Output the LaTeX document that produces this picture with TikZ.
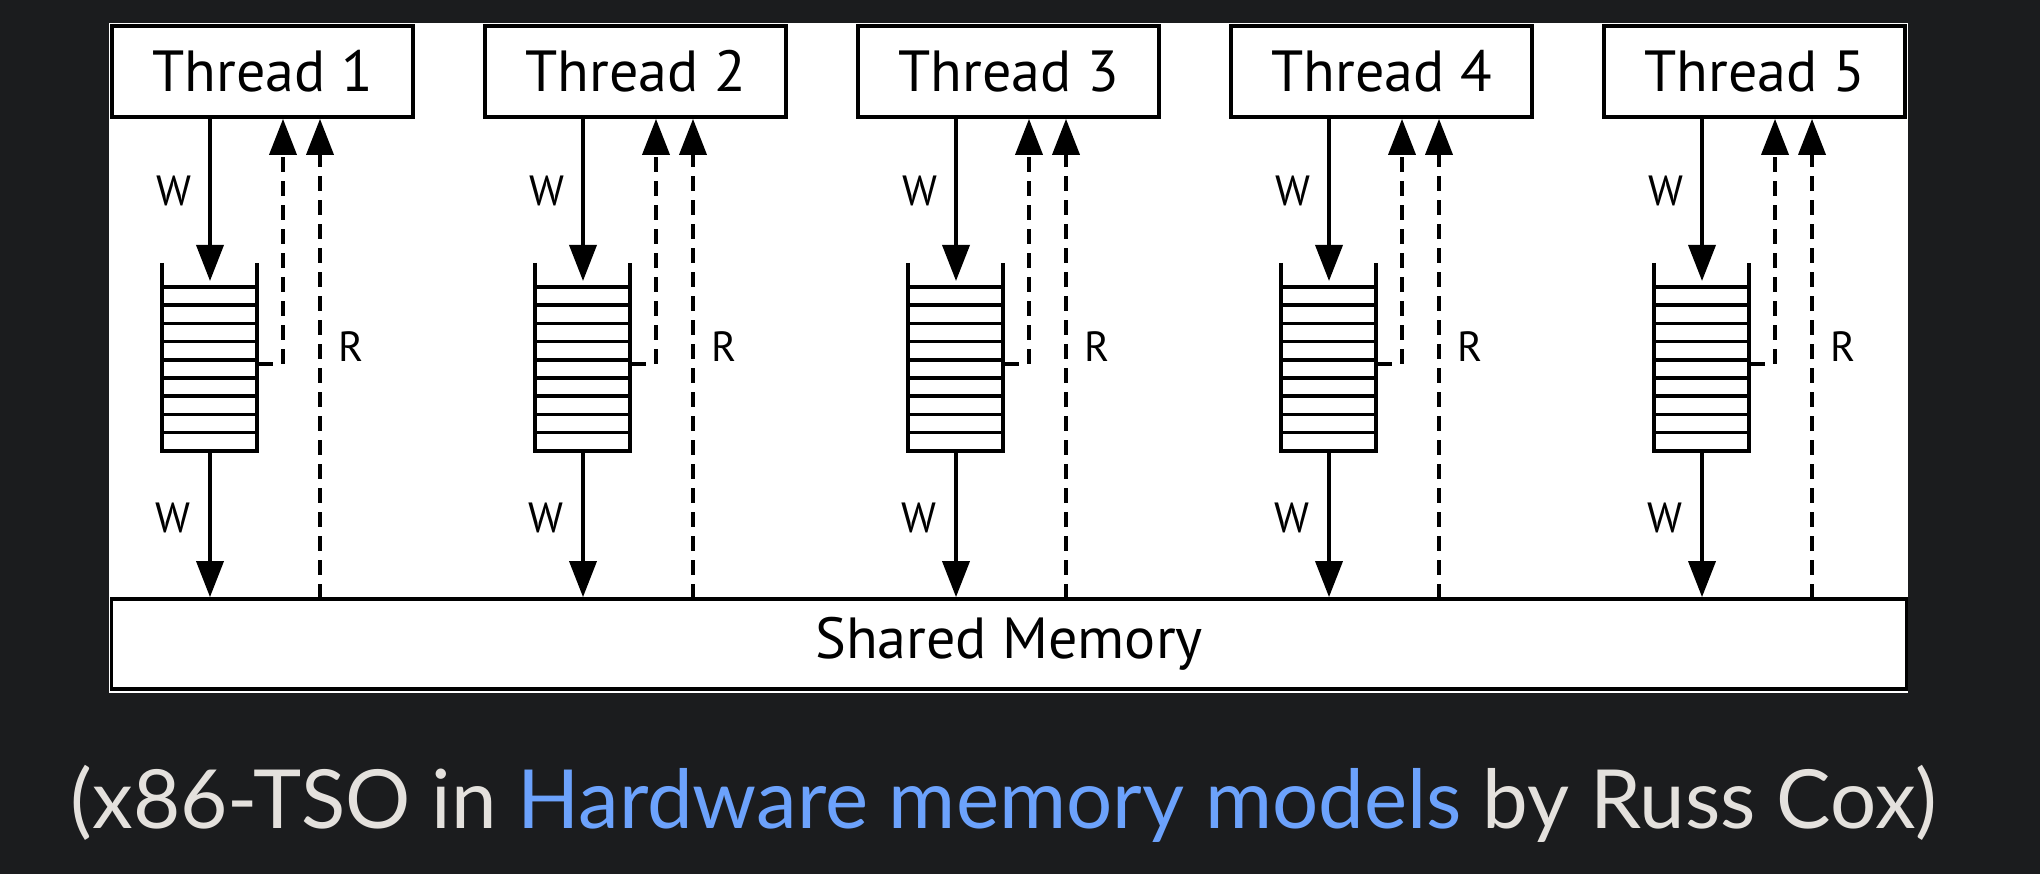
\documentclass[tikz,border=0pt]{standalone}
\usepackage{fontspec}
\setmainfont{PT Sans}
\newfontfamily\capfont{Lato}
\usetikzlibrary{arrows.meta}
\definecolor{pagebg}{HTML}{1B1C1E}
\definecolor{captext}{HTML}{E4E1DD}
\definecolor{linkblue}{HTML}{6CA2FC}
\begin{document}
\begin{tikzpicture}[x=0.01cm,y=-0.01cm,line width=1.05pt,
  threadbox/.style={draw,minimum width=3.01cm,minimum height=0.91cm,inner sep=0pt,
    font=\fontsize{16.5}{18}\selectfont},
  lbl/.style={inner sep=0pt,font=\fontsize{12}{14}\selectfont},
  wtip/.style={-{Triangle[length=0.36cm,width=0.27cm]}},
  rline/.style={wtip,dash pattern=on 0.15cm off 0.09cm}]
\fill[pagebg] (0,0) rectangle (2040,874);
\fill[white] (109,23) rectangle (1908,693);
\node[threadbox,minimum width=17.94cm,minimum height=0.9cm] (mem) at (1009,644) {Shared Memory};
\foreach \i in {1,...,5}{
  \pgfmathsetmacro\o{373*(\i-1)}
  \node[threadbox] (t\i) at (262.5+\o,71.5) {Thread \i};
  \coordinate (qin\i) at (210+\o,281);
  \coordinate (qout\i) at (210+\o,451);
  \coordinate (fwd\i) at (283+\o,364);
  \coordinate (rd\i) at (320+\o,599);
  % store buffer
  \draw (162+\o,263) -- (162+\o,451) -- (257+\o,451) -- (257+\o,263);
  \foreach \k in {0,...,8}
    \draw (162+\o,287+18.2*\k) -- ++(95,0);
  \draw (257+\o,364) -- ++(16,0);
  \draw[wtip] (t\i.south -| qin\i) -- (qin\i);
  \draw[wtip] (qout\i) -- (qout\i |- mem.north);
  \draw[rline] (fwd\i) -- (fwd\i |- t\i.south);
  \draw[rline] (rd\i) -- (rd\i |- t\i.south);
  \node[lbl] (wa\i) at (174+\o,191) {W};
  \node[lbl] (wb\i) at (173+\o,518) {W};
  \node[lbl] (r\i) at (351+\o,347) {R};
}
\node[anchor=base,inner sep=0pt,text=captext,font=\capfont\fontsize{23.2}{28}\selectfont]
  (cap) at (1004,829) {(x86-TSO in \textcolor{linkblue}{Hardware memory models} by Russ Cox)};
\end{tikzpicture}
\end{document}
